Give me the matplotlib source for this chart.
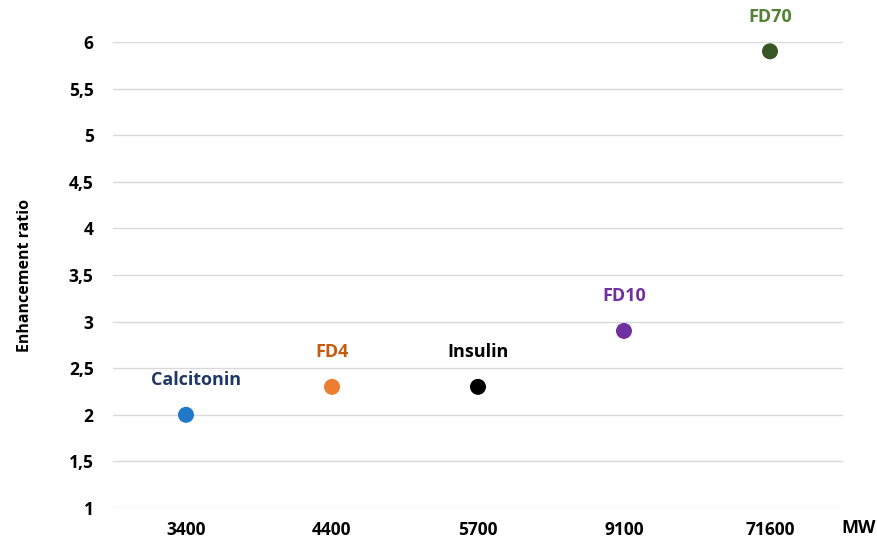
import matplotlib.pyplot as plt
from matplotlib.ticker import FuncFormatter

# data
mw_labels = ["3400", "4400", "5700", "9100", "71600"]
names = ["Calcitonin", "FD4", "Insulin", "FD10", "FD70"]
ratios = [2.0, 2.3, 2.3, 2.9, 5.9]
marker_colors = ["#1F78C8", "#ED7D31", "#000000", "#7030A0", "#375623"]
text_colors = ["#1F3864", "#C55A11", "#000000", "#7030A0", "#548235"]

plt.rcParams['font.family'] = ['Open Sans', 'DejaVu Sans']

fig = plt.figure(figsize=(8.78, 5.42), dpi=100)
ax = fig.add_axes([0.1287, 0.0627, 0.8314, 0.8598])

x = list(range(len(names)))
ax.scatter(x, ratios, s=110, c=marker_colors, zorder=3, clip_on=False)

# label above each point
for xi, yi, name, col in zip(x, ratios, names, text_colors):
    dx = 7 if name == "Calcitonin" else 0
    ax.annotate(name, (xi, yi), xytext=(dx, 25), textcoords='offset points',
                ha='center', va='center', fontsize=13, fontweight='bold',
                color=col, annotation_clip=False)

ax.set_xlim(-0.5, 4.5)
ax.set_ylim(1, 6)
ax.set_yticks([1 + 0.5 * i for i in range(11)])
ax.yaxis.set_major_formatter(FuncFormatter(lambda v, p: f"{v:g}".replace('.', ',')))
ax.set_xticks(x)
ax.set_xticklabels(mw_labels)

ax.grid(axis='y', color='#D9D9D9', linewidth=1)
ax.set_axisbelow(True)
for s in ax.spines.values():
    s.set_visible(False)
ax.tick_params(axis='both', length=0, labelsize=12.5)
ax.tick_params(axis='y', pad=14)
ax.tick_params(axis='x', pad=9)
for lbl in ax.get_xticklabels() + ax.get_yticklabels():
    lbl.set_fontweight('bold')

ax.set_ylabel("Enhancement ratio", fontsize=11.5, fontweight='bold', labelpad=26)
fig.text(0.997, 0.025, "MW", fontsize=13, fontweight='bold', ha='right', va='center')

fig.savefig("out.png", dpi=100)
